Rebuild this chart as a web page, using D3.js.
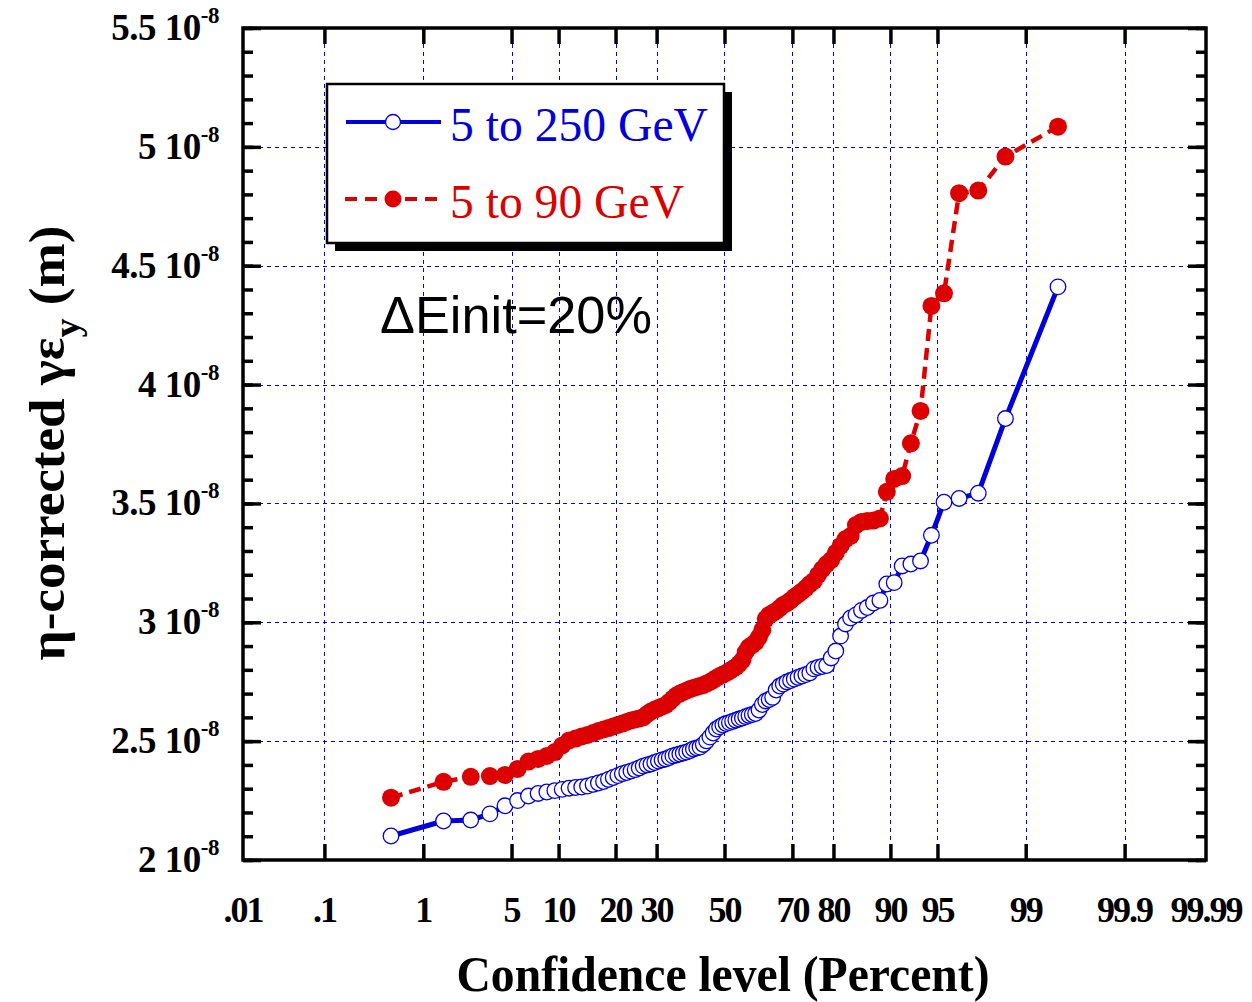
<!DOCTYPE html>
<html>
<head>
<meta charset="utf-8">
<script src="https://cdn.jsdelivr.net/npm/d3@7"></script>
<style>
  html, body { margin: 0; padding: 0; background: #fff; }
  svg { display: block; }
</style>
</head>
<body>
<svg id="chart" width="1252" height="1002"></svg>
<script>
// ---------------- DATA ----------------
// Confidence levels (percent) of the plotted (sorted) samples
const confidence = [
  0.5, 1.5, 2.5, 3.5, 4.5, 5.5, 6.5, 7.5, 8.5, 9.5,
  10.5, 11.5, 12.5, 13.5, 14.5, 15.5, 16.5, 17.5, 18.5, 19.5,
  20.5, 21.5, 22.5, 23.5, 24.5, 25.5, 26.5, 27.5, 28.5, 29.5,
  30.5, 31.5, 32.5, 33.5, 34.5, 35.5, 36.5, 37.5, 38.5, 39.5,
  40.5, 41.5, 42.5, 43.5, 44.5, 45.5, 46.5, 47.5, 48.5, 49.5,
  50.5, 51.5, 52.5, 53.5, 54.5, 55.5, 56.5, 57.5, 58.5, 59.5,
  60.5, 61.5, 62.5, 63.5, 64.5, 65.5, 66.5, 67.5, 68.5, 69.5,
  70.5, 71.5, 72.5, 73.5, 74.5, 75.5, 76.5, 77.5, 78.5, 79.5,
  80.5, 81.5, 82.5, 83.5, 84.5, 85.5, 86.5, 87.5, 88.5, 89.5,
  90.5, 91.5, 92.5, 93.5, 94.5, 95.5, 96.5, 97.5, 98.5, 99.5
];

// "5 to 250 GeV" (units of 1e-8 m)
const series250 = [
  2.101, 2.164, 2.168, 2.194, 2.228, 2.250, 2.269, 2.280, 2.286, 2.292,
  2.297, 2.302, 2.305, 2.307, 2.311, 2.318, 2.324, 2.330, 2.339, 2.347,
  2.355, 2.363, 2.368, 2.374, 2.380, 2.387, 2.395, 2.400, 2.404, 2.410,
  2.416, 2.421, 2.425, 2.431, 2.438, 2.442, 2.446, 2.450, 2.454, 2.460,
  2.467, 2.471, 2.475, 2.486, 2.501, 2.517, 2.534, 2.551, 2.560, 2.568,
  2.574, 2.578, 2.583, 2.588, 2.593, 2.597, 2.603, 2.608, 2.612, 2.616,
  2.631, 2.654, 2.669, 2.675, 2.684, 2.715, 2.732, 2.740, 2.749, 2.755,
  2.761, 2.768, 2.774, 2.780, 2.787, 2.804, 2.810, 2.814, 2.818, 2.850,
  2.879, 2.942, 2.993, 3.018, 3.031, 3.050, 3.062, 3.081, 3.092, 3.161,
  3.167, 3.237, 3.245, 3.258, 3.366, 3.505, 3.521, 3.543, 3.857, 4.411
];

// "5 to 90 GeV" (units of 1e-8 m)
const series90 = [
  2.262, 2.329, 2.350, 2.353, 2.358, 2.383, 2.414, 2.425, 2.438, 2.454,
  2.482, 2.503, 2.511, 2.520, 2.526, 2.534, 2.543, 2.549, 2.555, 2.562,
  2.568, 2.574, 2.581, 2.587, 2.591, 2.595, 2.600, 2.614, 2.625, 2.633,
  2.639, 2.646, 2.652, 2.665, 2.679, 2.692, 2.700, 2.707, 2.713, 2.719,
  2.724, 2.728, 2.732, 2.736, 2.743, 2.749, 2.757, 2.766, 2.774, 2.780,
  2.787, 2.795, 2.804, 2.812, 2.825, 2.841, 2.875, 2.896, 2.905, 2.917,
  2.938, 2.968, 3.014, 3.031, 3.039, 3.048, 3.060, 3.073, 3.081, 3.092,
  3.106, 3.117, 3.130, 3.144, 3.161, 3.174, 3.199, 3.224, 3.245, 3.262,
  3.292, 3.321, 3.350, 3.363, 3.409, 3.422, 3.426, 3.428, 3.437, 3.549,
  3.603, 3.615, 3.753, 3.889, 4.331, 4.384, 4.805, 4.816, 4.959, 5.085
];

const seriesNames = ["5 to 250 GeV", "5 to 90 GeV"];

const xTickValues = [0.01, 0.1, 1, 5, 10, 20, 30, 50, 70, 80, 90, 95, 99, 99.9, 99.99];
const xTickLabels = [".01", ".1", "1", "5", "10", "20", "30", "50", "70", "80", "90", "95", "99", "99.9", "99.99"];
const yTickValues = [2, 2.5, 3, 3.5, 4, 4.5, 5, 5.5];
const yTickLabels = ["2", "2.5", "3", "3.5", "4", "4.5", "5", "5.5"];
const yMinorValues = d3.range(20, 56).map(v => v / 10);

// ---------------- HELPERS ----------------
function probit(p) {
  const a = [-3.969683028665376e+01, 2.209460984245205e+02, -2.759285104469687e+02, 1.383577518672690e+02, -3.066479806614716e+01, 2.506628277459239e+00];
  const b = [-5.447609879822406e+01, 1.615858368580409e+02, -1.556989798598866e+02, 6.680131188771972e+01, -1.328068155288572e+01];
  const c = [-7.784894002430293e-03, -3.223964580411365e-01, -2.400758277161838e+00, -2.549671348754894e+00, 4.374664141464968e+00, 2.938163982698783e+00];
  const d = [7.784695709041462e-03, 3.224671290700398e-01, 2.445134137142996e+00, 3.754408661907416e+00];
  const plow = 0.02425, phigh = 1 - plow;
  let q, r;
  if (p < plow) {
    q = Math.sqrt(-2 * Math.log(p));
    return (((((c[0]*q+c[1])*q+c[2])*q+c[3])*q+c[4])*q+c[5]) / ((((d[0]*q+d[1])*q+d[2])*q+d[3])*q+1);
  } else if (p <= phigh) {
    q = p - 0.5; r = q * q;
    return (((((a[0]*r+a[1])*r+a[2])*r+a[3])*r+a[4])*r+a[5])*q / (((((b[0]*r+b[1])*r+b[2])*r+b[3])*r+b[4])*r+1);
  } else {
    q = Math.sqrt(-2 * Math.log(1 - p));
    return -(((((c[0]*q+c[1])*q+c[2])*q+c[3])*q+c[4])*q+c[5]) / ((((d[0]*q+d[1])*q+d[2])*q+d[3])*q+1);
  }
}

// ---------------- LAYOUT ----------------
const L = 243, R = 1206, T = 28, B = 860;
const BLUE = "#0000dc", RED = "#dc0000";
const SERIF = "'Liberation Serif', 'Times New Roman', serif";

const zScale = d3.scaleLinear().domain([probit(0.0001), probit(0.9999)]).range([L, R]);
const x = pct => zScale(probit(pct / 100));
const y = d3.scaleLinear().domain([2, 5.5]).range([B, T]);

const svg = d3.select("#chart");

// grid
const grid = svg.append("g");
grid.selectAll("line.vg").data(xTickValues.slice(1, -1)).join("line")
  .attr("x1", d => Math.round(x(d)) + 0.5).attr("x2", d => Math.round(x(d)) + 0.5)
  .attr("y1", T).attr("y2", B)
  .attr("stroke", "#0000ff").attr("stroke-width", 1).attr("stroke-dasharray", "4,4");
grid.selectAll("line.hg").data(yTickValues.slice(1, -1)).join("line")
  .attr("x1", L).attr("x2", R)
  .attr("y1", d => Math.round(y(d)) + 0.5).attr("y2", d => Math.round(y(d)) + 0.5)
  .attr("stroke", "#0000ff").attr("stroke-width", 1).attr("stroke-dasharray", "4,4");

// axes via d3 axis generators (inward ticks)
const xAxisBottom = d3.axisTop(d3.scaleLinear().domain([L, R]).range([L, R]))
  .tickValues(xTickValues.slice(1, -1).map(x)).tickSize(16).tickFormat("");
const xAxisTop = d3.axisBottom(d3.scaleLinear().domain([L, R]).range([L, R]))
  .tickValues(xTickValues.slice(1, -1).map(x)).tickSize(16).tickFormat("");
function styleAxis(g) {
  g.select(".domain").remove();
  g.selectAll(".tick line").attr("stroke", "#000").attr("stroke-width", 3.5);
}
svg.append("g").attr("transform", `translate(0,${B})`).call(xAxisBottom).call(styleAxis);
svg.append("g").attr("transform", `translate(0,${T})`).call(xAxisTop).call(styleAxis);

const yMinorLeft = d3.axisRight(y).tickValues(yMinorValues).tickSize(10).tickFormat("");
const yMajorLeft = d3.axisRight(y).tickValues(yTickValues).tickSize(18).tickFormat("");
const yMinorRight = d3.axisLeft(y).tickValues(yMinorValues).tickSize(10).tickFormat("");
const yMajorRight = d3.axisLeft(y).tickValues(yTickValues).tickSize(18).tickFormat("");
svg.append("g").attr("transform", `translate(${L},0)`).call(yMinorLeft).call(styleAxis);
svg.append("g").attr("transform", `translate(${L},0)`).call(yMajorLeft).call(styleAxis);
svg.append("g").attr("transform", `translate(${R},0)`).call(yMinorRight).call(styleAxis);
svg.append("g").attr("transform", `translate(${R},0)`).call(yMajorRight).call(styleAxis);

// frame
svg.append("rect").attr("x", L).attr("y", T).attr("width", R - L).attr("height", B - T)
  .attr("fill", "none").attr("stroke", "#000").attr("stroke-width", 3.5);

// tick labels
svg.append("g").selectAll("text").data(xTickValues).join("text")
  .attr("x", d => x(d)).attr("y", 922)
  .attr("text-anchor", "middle")
  .attr("font-family", SERIF)
  .attr("font-weight", "bold").attr("font-size", 36)
  .attr("letter-spacing", -2)
  .text((d, i) => xTickLabels[i]);

const yl = svg.append("g").selectAll("text").data(yTickValues).join("text")
  .attr("x", 219).attr("y", d => y(d) + 12)
  .attr("text-anchor", "end")
  .attr("font-family", SERIF)
  .attr("font-weight", "bold").attr("font-size", 37)
  .attr("letter-spacing", -0.5);
yl.append("tspan").text((d, i) => yTickLabels[i] + " 10");
yl.append("tspan").attr("dy", -17).attr("font-size", 23).text("-8");

// axis titles
svg.append("text")
  .attr("x", 723).attr("y", 991).attr("text-anchor", "middle")
  .attr("font-family", SERIF)
  .attr("font-weight", "bold").attr("font-size", 50)
  .attr("textLength", 533).attr("lengthAdjust", "spacingAndGlyphs")
  .text("Confidence level (Percent)");

const yt = svg.append("text")
  .attr("transform", "translate(64,443) rotate(-90)")
  .attr("text-anchor", "middle")
  .attr("font-family", SERIF)
  .attr("font-weight", "bold").attr("font-size", 50)
  .attr("textLength", 435).attr("lengthAdjust", "spacingAndGlyphs");
yt.append("tspan").text("η-corrected γε");
yt.append("tspan").attr("dy", 15).attr("font-size", 36).text("y");
yt.append("tspan").attr("dy", -15).text(" (m)");

// ---------------- SERIES ----------------
const data250 = confidence.map((c, i) => [c, series250[i]]);
const data90 = confidence.map((c, i) => [c, series90[i]]);
const line = d3.line().x(d => x(d[0])).y(d => y(d[1]));

svg.append("path").datum(data250).attr("d", line)
  .attr("fill", "none").attr("stroke", BLUE).attr("stroke-width", 5).attr("stroke-linejoin", "round");
svg.append("g").selectAll("circle").data(data250).join("circle")
  .attr("cx", d => x(d[0])).attr("cy", d => y(d[1])).attr("r", 7.8)
  .attr("fill", "#fff").attr("stroke", BLUE).attr("stroke-width", 1.3);

svg.append("path").datum(data90).attr("d", line)
  .attr("fill", "none").attr("stroke", RED).attr("stroke-width", 4.5).attr("stroke-dasharray", "12,7");
svg.append("g").selectAll("circle").data(data90).join("circle")
  .attr("cx", d => x(d[0])).attr("cy", d => y(d[1])).attr("r", 9)
  .attr("fill", RED);

// ---------------- LEGEND ----------------
const lg = svg.append("g");
lg.append("rect").attr("x", 335).attr("y", 92).attr("width", 397).attr("height", 159).attr("fill", "#000");
lg.append("rect").attr("x", 327).attr("y", 84).attr("width", 397).attr("height", 159)
  .attr("fill", "#fff").attr("stroke", "#000").attr("stroke-width", 2.5);

lg.append("line").attr("x1", 346).attr("x2", 441).attr("y1", 122).attr("y2", 122)
  .attr("stroke", BLUE).attr("stroke-width", 4);
lg.append("circle").attr("cx", 393).attr("cy", 122).attr("r", 7.5)
  .attr("fill", "#fff").attr("stroke", BLUE).attr("stroke-width", 1.3);
lg.append("text").attr("x", 450).attr("y", 141)
  .attr("font-family", SERIF).attr("font-size", 48)
  .attr("textLength", 258).attr("lengthAdjust", "spacingAndGlyphs")
  .attr("fill", BLUE).text(seriesNames[0]);

lg.append("line").attr("x1", 345).attr("x2", 441).attr("y1", 199).attr("y2", 199)
  .attr("stroke", RED).attr("stroke-width", 4).attr("stroke-dasharray", "12,8");
lg.append("circle").attr("cx", 393).attr("cy", 199).attr("r", 8.5).attr("fill", RED);
lg.append("text").attr("x", 450).attr("y", 218)
  .attr("font-family", SERIF).attr("font-size", 48)
  .attr("textLength", 234).attr("lengthAdjust", "spacingAndGlyphs")
  .attr("fill", RED).text(seriesNames[1]);

// annotation
svg.append("text").attr("x", 380).attr("y", 333)
  .attr("font-family", "'Liberation Sans', Arial, sans-serif").attr("font-size", 52)
  .attr("textLength", 272).attr("lengthAdjust", "spacingAndGlyphs")
  .attr("fill", "#000").text("ΔEinit=20%");
</script>
</body>
</html>
